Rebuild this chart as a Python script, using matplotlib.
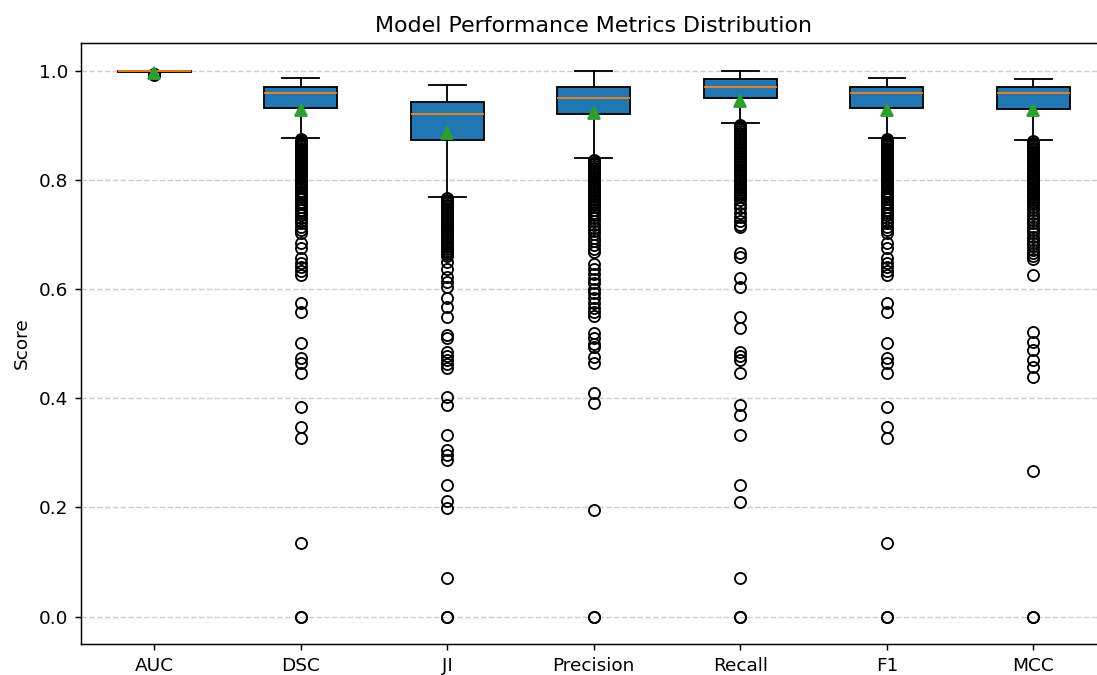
import matplotlib
matplotlib.use("Agg")
import matplotlib.pyplot as plt

# Metric names (x tick labels)
METRICS = ["AUC", "DSC", "JI", "Precision", "Recall", "F1", "MCC"]

# Box statistics
Q1 = [0.998, 0.932, 0.872, 0.920, 0.950, 0.932, 0.930]
MEDIAN = [0.999, 0.958, 0.920, 0.950, 0.970, 0.958, 0.958]
Q3 = [1.000, 0.970, 0.943, 0.970, 0.984, 0.970, 0.970]
WHISK_LO = [0.997, 0.876, 0.768, 0.839, 0.903, 0.876, 0.872]
WHISK_HI = [1.000, 0.987, 0.973, 1.000, 1.000, 0.987, 0.984]
MEAN = [0.995, 0.927, 0.885, 0.923, 0.945, 0.927, 0.927]

# Outliers per metric (the upper part of each stack is packed solid)
FLIERS_AUC = [0.994, 0.993, 0.992]
FLIERS_DSC = [
    0.875, 0.873, 0.871, 0.869, 0.867, 0.865, 0.863, 0.861, 0.859, 0.857,
    0.855, 0.853, 0.851, 0.849, 0.847, 0.845, 0.843, 0.841, 0.839, 0.837,
    0.835, 0.833, 0.831, 0.829, 0.827, 0.825, 0.823, 0.821, 0.819, 0.817,
    0.815, 0.813, 0.811, 0.809, 0.807, 0.805, 0.803, 0.801, 0.798, 0.795,
    0.792, 0.788, 0.784, 0.780, 0.776, 0.772, 0.768, 0.764, 0.760, 0.755,
    0.750, 0.745, 0.740, 0.735, 0.730, 0.725, 0.720, 0.714, 0.708, 0.703,
    0.684, 0.675, 0.656, 0.648, 0.640, 0.632, 0.625,
    0.574, 0.558, 0.501, 0.473, 0.464, 0.446, 0.384, 0.347, 0.327, 0.135,
    0.0, 0.0,
]
FLIERS_JI = [
    0.766, 0.763, 0.760, 0.757, 0.754, 0.751, 0.748, 0.745, 0.742, 0.739,
    0.736, 0.733, 0.730, 0.727, 0.724, 0.721, 0.718, 0.715, 0.712, 0.709,
    0.706, 0.703, 0.700, 0.697, 0.694, 0.691, 0.688, 0.685, 0.682, 0.679,
    0.676, 0.673, 0.670, 0.667, 0.664, 0.660, 0.650, 0.636, 0.622, 0.612,
    0.604, 0.583, 0.567, 0.549, 0.516, 0.510, 0.484, 0.478, 0.470, 0.463,
    0.456, 0.403, 0.388, 0.333, 0.305, 0.296, 0.287, 0.241, 0.211, 0.199,
    0.071, 0.0, 0.0,
]
FLIERS_PRECISION = [
    0.837, 0.834, 0.831, 0.828, 0.825, 0.822, 0.819, 0.816, 0.813, 0.810,
    0.807, 0.804, 0.801, 0.798, 0.795, 0.792, 0.789, 0.786, 0.783, 0.780,
    0.777, 0.774, 0.771, 0.768, 0.765, 0.762, 0.759, 0.756, 0.753, 0.750,
    0.745, 0.740, 0.735, 0.730, 0.724, 0.718, 0.712, 0.706, 0.700, 0.694,
    0.688, 0.681, 0.674, 0.668, 0.645, 0.636, 0.627, 0.618, 0.610, 0.600,
    0.592, 0.583, 0.575, 0.566, 0.558, 0.550, 0.519, 0.510, 0.500, 0.494,
    0.475, 0.465, 0.409, 0.391, 0.196, 0.0, 0.0,
]
FLIERS_RECALL = [
    0.901, 0.898, 0.895, 0.892, 0.889, 0.886, 0.883, 0.880, 0.877, 0.874,
    0.871, 0.868, 0.865, 0.862, 0.859, 0.856, 0.853, 0.850, 0.847, 0.844,
    0.841, 0.838, 0.835, 0.832, 0.829, 0.826, 0.823, 0.820, 0.817, 0.814,
    0.811, 0.808, 0.805, 0.802, 0.799, 0.796, 0.793, 0.790, 0.787, 0.784,
    0.781, 0.778, 0.775, 0.772, 0.769, 0.762, 0.755, 0.748, 0.740, 0.732,
    0.724, 0.718, 0.713, 0.665, 0.658, 0.620, 0.603, 0.549, 0.528, 0.484,
    0.478, 0.470, 0.446, 0.388, 0.369, 0.333, 0.241, 0.210, 0.071, 0.0, 0.0,
]
FLIERS_F1 = list(FLIERS_DSC)  # F1 and DSC are identical
FLIERS_MCC = [
    0.871, 0.868, 0.865, 0.862, 0.859, 0.856, 0.853, 0.850, 0.847, 0.844,
    0.841, 0.838, 0.835, 0.832, 0.829, 0.826, 0.823, 0.820, 0.817, 0.814,
    0.811, 0.808, 0.805, 0.802, 0.799, 0.796, 0.793, 0.790, 0.787, 0.784,
    0.781, 0.778, 0.775, 0.772, 0.769, 0.766, 0.763, 0.760, 0.755, 0.750,
    0.744, 0.738, 0.732, 0.726, 0.720, 0.714, 0.708, 0.702, 0.696, 0.690,
    0.684, 0.678, 0.672, 0.666, 0.660, 0.654, 0.625, 0.522, 0.503, 0.488,
    0.470, 0.458, 0.439, 0.266, 0.0, 0.0,
]
FLIERS = [FLIERS_AUC, FLIERS_DSC, FLIERS_JI, FLIERS_PRECISION,
          FLIERS_RECALL, FLIERS_F1, FLIERS_MCC]

stats = []
for i, name in enumerate(METRICS):
    stats.append({
        "label": name,
        "q1": Q1[i],
        "med": MEDIAN[i],
        "q3": Q3[i],
        "whislo": WHISK_LO[i],
        "whishi": WHISK_HI[i],
        "mean": MEAN[i],
        "fliers": FLIERS[i],
    })

DPI = 133
fig = plt.figure(figsize=(1097 / DPI, 675 / DPI), dpi=DPI)
ax = fig.add_axes([0.0738, 0.046, 0.935, 0.89])

bp = ax.bxp(stats, showmeans=True, patch_artist=True)
for box in bp["boxes"]:
    box.set_facecolor("#1f77b4")

ax.set_title("Model Performance Metrics Distribution", fontsize=12)
ax.set_ylabel("Score")
ax.yaxis.grid(True, linestyle="--", alpha=0.6)
ax.set_ylim(-0.05, 1.05)

fig.savefig("out.png", dpi=DPI)
